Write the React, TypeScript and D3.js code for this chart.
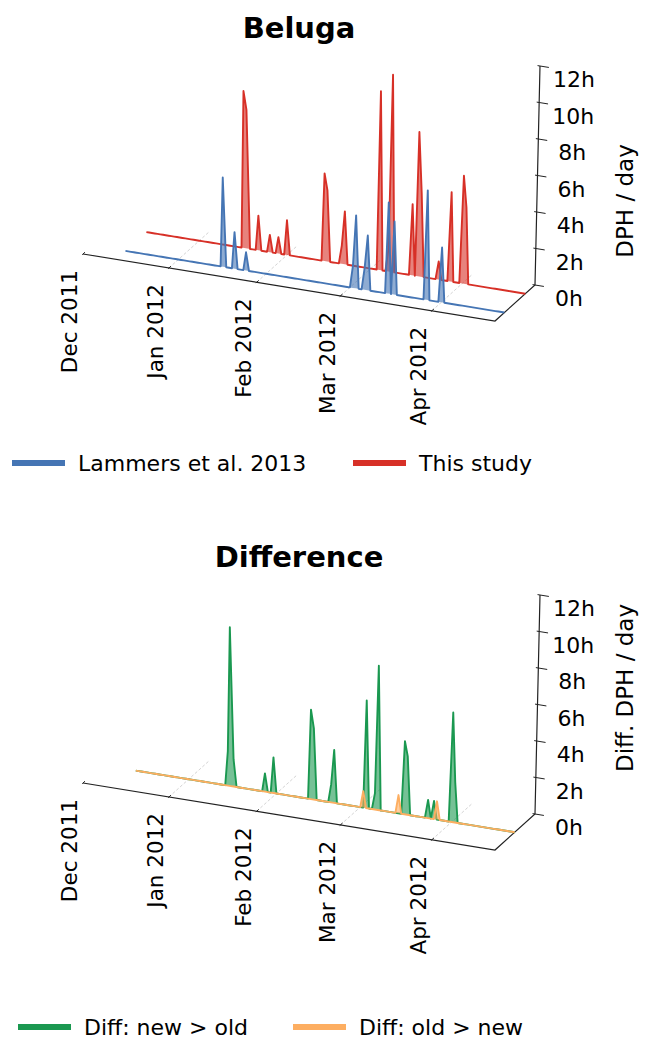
import React, { useRef, useEffect } from 'react';
import * as d3 from 'd3';

// date axis range and the first day of the daily series
const axisStart = '2011-12-01';
const axisEnd = '2012-04-22';
const seriesStart = '2011-12-13';

const monthTicks = ['2011-12-01', '2012-01-01', '2012-02-01', '2012-03-01', '2012-04-01'];
const monthLabels = ['Dec 2011', 'Jan 2012', 'Feb 2012', 'Mar 2012', 'Apr 2012'];
const hourTicks = [0, 2, 4, 6, 8, 10, 12];
const hourLabels = ['0h', '2h', '4h', '6h', '8h', '10h', '12h'];

// days with detections (all other days are 0h)
const lammersDates = ['2012-01-17', '2012-01-21', '2012-01-25', '2012-03-02', '2012-03-03', '2012-03-06', '2012-03-07', '2012-03-14', '2012-03-16', '2012-03-27', '2012-04-01'];
const lammersHours = [4.9, 2.0, 1.0, 1.2, 4.0, 1.2, 3.0, 5.0, 4.0, 6.0, 3.0];

const studyDates = ['2012-01-17', '2012-01-18', '2012-01-22', '2012-01-26', '2012-01-29', '2012-02-01', '2012-02-14', '2012-02-15', '2012-02-20', '2012-02-21', '2012-03-04', '2012-03-07', '2012-03-08', '2012-03-15', '2012-03-17', '2012-03-18', '2012-03-24', '2012-03-28', '2012-04-01', '2012-04-02'];
const studyHours = [8.6, 7.6, 1.9, 0.95, 0.9, 1.9, 4.8, 3.9, 1.0, 2.9, 9.8, 1.3, 10.8, 3.9, 7.9, 4.6, 1.0, 4.9, 5.9, 4.2];

const diffNewDates = ['2012-01-15', '2012-01-16', '2012-01-17', '2012-01-28', '2012-01-31', '2012-02-13', '2012-02-14', '2012-02-20', '2012-02-21', '2012-03-03', '2012-03-06', '2012-03-07', '2012-03-16', '2012-03-17', '2012-03-24', '2012-03-26', '2012-04-01', '2012-04-02'];
const diffNewHours = [1.9, 8.7, 1.5, 1.0, 1.95, 4.9, 3.9, 1.0, 2.9, 5.9, 0.9, 7.9, 4.0, 3.2, 1.0, 1.0, 6.0, 2.2];

const diffOldDates = ['2012-03-02', '2012-03-14', '2012-03-27'];
const diffOldHours = [0.9, 1.0, 1.0];

const WIDTH = 645;
const HEIGHT = 1039;
const FONT = 'DejaVu Sans, sans-serif';

const BLUE = '#4575b4';
const RED = '#d73027';
const GREEN = '#1a9850';
const ORANGE = '#fdae61';

const parse = d3.timeParse('%Y-%m-%d');
const fmt = d3.timeFormat('%Y-%m-%d');

function dailySeries(dates, hours) {
  const byDay = new Map(dates.map((d, i) => [d, hours[i]]));
  const end = d3.timeDay.offset(parse(axisEnd), 1);
  return d3.timeDay.range(parse(seriesStart), end).map(day => ({
    date: day,
    v: byDay.get(fmt(day)) ?? 0
  }));
}

const App = () => {
  const svgRef = useRef();

  useEffect(() => {
    const svg = d3.select(svgRef.current);
    svg.selectAll('*').remove();

    // 3D-ish projection: date along the front edge, depth back to the right, hours up
    const tScale = d3.scaleTime().domain([parse(axisStart), parse(axisEnd)]).range([0, 1]);
    const zScale = d3.scaleLinear().domain([0, 12]).range([0, 219]);
    const persp = 1.05;
    const front = { x: 83, y: 254 };
    const dateVec = { x: 412, y: 67 };
    const depthVec = { x: 40, y: -36 };
    const tilt = 5 / (235 * 219);
    const dirLen = Math.hypot(dateVec.x, dateVec.y);
    const dir = { x: dateVec.x / dirLen, y: dateVec.y / dirLen };

    const project = (date, depth, hours, oy) => {
      const s = tScale(date);
      const u = s / (s + persp * (1 - s));
      const bx = front.x + u * dateVec.x + depth * depthVec.x;
      const by = oy + front.y + u * dateVec.y + depth * depthVec.y;
      const h = zScale(hours);
      return [bx + (bx - 300) * tilt * h, by - h];
    };

    const drawPanel = ({ oy, title, zLabel, zLabelY, series }) => {
      const g = svg.append('g');
      const end = parse(axisEnd);
      const start = parse(axisStart);

      g.append('text')
        .attr('x', 299).attr('y', oy + 37.5)
        .attr('text-anchor', 'middle')
        .attr('font-family', FONT).attr('font-size', 29).attr('font-weight', 'bold')
        .text(title);

      // floor grid lines at month ticks (none at the axis start)
      g.append('g').selectAll('line')
        .data(monthTicks.slice(1).map(parse))
        .join('line')
        .attr('x1', d => project(d, 0, 0, oy)[0]).attr('y1', d => project(d, 0, 0, oy)[1])
        .attr('x2', d => project(d, 1, 0, oy)[0]).attr('y2', d => project(d, 1, 0, oy)[1])
        .attr('stroke', '#c8c8c8').attr('stroke-width', 0.8).attr('stroke-dasharray', '3,2');

      // axis frame
      const frame = [
        project(start, 0, 0, oy), project(end, 0, 0, oy),
        project(end, 1, 0, oy), project(end, 1, 12, oy)
      ];
      g.append('path')
        .attr('d', d3.line()(frame))
        .attr('fill', 'none').attr('stroke', '#222').attr('stroke-width', 1.2);

      // date ticks + labels
      const dt = g.append('g').selectAll('g')
        .data(monthTicks.map((d, i) => ({ date: parse(d), label: monthLabels[i] })))
        .join('g');
      dt.append('line')
        .attr('x1', d => project(d.date, -0.02, 0, oy)[0]).attr('y1', d => project(d.date, -0.02, 0, oy)[1])
        .attr('x2', d => project(d.date, 0.05, 0, oy)[0]).attr('y2', d => project(d.date, 0.05, 0, oy)[1])
        .attr('stroke', '#222').attr('stroke-width', 1);
      dt.append('text')
        .attr('transform', d => {
          const [px, py] = project(d.date, 0, 0, oy);
          return `translate(${px - 6},${py + 16}) rotate(-90)`;
        })
        .attr('text-anchor', 'end')
        .attr('font-family', FONT).attr('font-size', 21.5)
        .text(d => d.label);

      // hour ticks + labels
      const ht = g.append('g').selectAll('g')
        .data(hourTicks.map((h, i) => ({ h, label: hourLabels[i] })))
        .join('g');
      ht.append('line')
        .attr('x1', d => project(end, 1, d.h, oy)[0] - 2.5 * dir.x)
        .attr('y1', d => project(end, 1, d.h, oy)[1] - 2.5 * dir.y)
        .attr('x2', d => project(end, 1, d.h, oy)[0] + 9 * dir.x)
        .attr('y2', d => project(end, 1, d.h, oy)[1] + 9 * dir.y)
        .attr('stroke', '#222').attr('stroke-width', 1);
      ht.append('text')
        .attr('x', d => project(end, 1, d.h, oy)[0] + 34)
        .attr('y', d => project(end, 1, d.h, oy)[1] + 21)
        .attr('text-anchor', 'middle')
        .attr('font-family', FONT).attr('font-size', 22)
        .text(d => d.label);

      g.append('text')
        .attr('transform', `translate(633,${zLabelY}) rotate(-90)`)
        .attr('text-anchor', 'middle')
        .attr('font-family', FONT).attr('font-size', 23)
        .text(zLabel);

      // series: back to front
      series.forEach(s => {
        const data = dailySeries(s.dates, s.hours);
        const area = d3.area()
          .x0(d => project(d.date, s.depth, 0, oy)[0])
          .y0(d => project(d.date, s.depth, 0, oy)[1])
          .x1(d => project(d.date, s.depth, d.v, oy)[0])
          .y1(d => project(d.date, s.depth, d.v, oy)[1]);
        const line = d3.line()
          .x(d => project(d.date, s.depth, d.v, oy)[0])
          .y(d => project(d.date, s.depth, d.v, oy)[1]);
        g.append('path')
          .attr('d', area(data))
          .attr('fill', s.color).attr('fill-opacity', 0.6).attr('stroke', 'none');
        g.append('path')
          .attr('d', line(data))
          .attr('fill', 'none').attr('stroke', s.color)
          .attr('stroke-width', 1.9).attr('stroke-linejoin', 'round');
      });
    };

    const drawLegend = (y, items) => {
      const lg = svg.append('g').selectAll('g').data(items).join('g');
      lg.append('line')
        .attr('x1', d => d.x).attr('x2', d => d.x + 53)
        .attr('y1', y).attr('y2', y)
        .attr('stroke', d => d.color).attr('stroke-width', 6);
      lg.append('text')
        .attr('x', d => d.x + 66).attr('y', y + 8)
        .attr('font-family', FONT).attr('font-size', 22)
        .text(d => d.label);
    };

    drawPanel({
      oy: 0,
      title: 'Beluga',
      zLabel: 'DPH / day',
      zLabelY: 201,
      series: [
        { dates: studyDates, hours: studyHours, depth: 0.758, color: RED },
        { dates: lammersDates, hours: lammersHours, depth: 0.235, color: BLUE }
      ]
    });
    drawLegend(463, [
      { x: 12, color: BLUE, label: 'Lammers et al. 2013' },
      { x: 353, color: RED, label: 'This study' }
    ]);

    drawPanel({
      oy: 529,
      title: 'Difference',
      zLabel: 'Diff. DPH / day',
      zLabelY: 688,
      series: [
        { dates: diffNewDates, hours: diffNewHours, depth: 0.493, color: GREEN },
        { dates: diffOldDates, hours: diffOldHours, depth: 0.493, color: ORANGE }
      ]
    });
    drawLegend(1027, [
      { x: 18, color: GREEN, label: 'Diff: new > old' },
      { x: 293, color: ORANGE, label: 'Diff: old > new' }
    ]);
  }, []);

  return (
    <svg
      ref={svgRef}
      width={WIDTH}
      height={HEIGHT}
      style={{ position: 'absolute', left: 0, top: 0, background: 'white' }}
    />
  );
};

export default App;
